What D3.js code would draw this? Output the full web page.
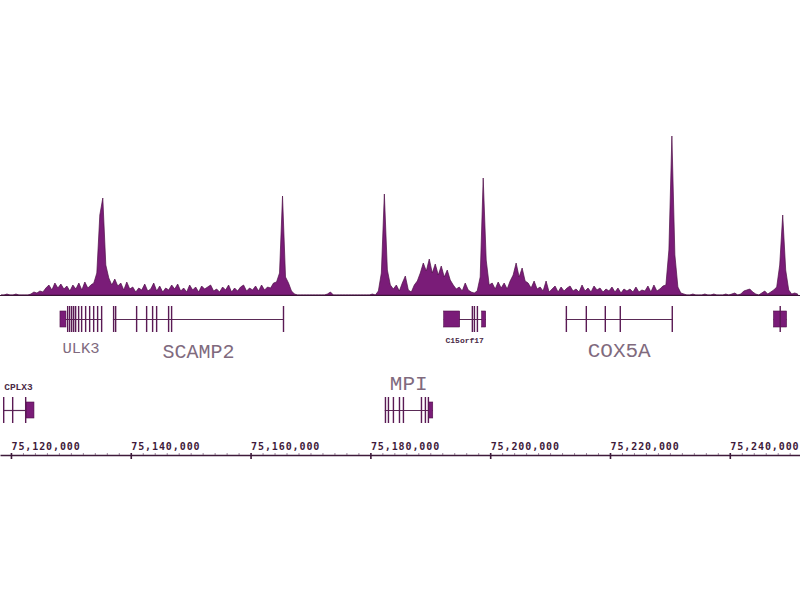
<!DOCTYPE html>
<html>
<head>
<meta charset="utf-8">
<script src="https://cdn.jsdelivr.net/npm/d3@7"></script>
<style>
  html, body { margin: 0; padding: 0; background: #ffffff; }
  svg { display: block; }
</style>
</head>
<body>
<svg id="chart" width="800" height="600"></svg>
<script>
// ---------------- DATA ----------------
// Genomic window (chr15, bp)
const regionStart = 75118170;
const regionEnd = 75251720;

// Signal track: bins of 500 bp starting at signalStart
const signalStart = 75118333;
const signalStep = 500;
const signalValues = [
  0,0,1,0,0,1,0,0,0,0,
  1,3,2,4,3,7,10,5,12,7,
  11,6,9,4,10,6,12,5,13,7,
  10,12,22,80,97,30,17,10,16,9,
  12,5,13,6,8,3,7,5,11,4,
  6,12,4,9,3,7,5,10,6,11,
  4,7,3,10,5,8,3,9,6,8,
  10,4,6,3,8,5,10,3,7,4,
  8,10,4,7,5,9,4,10,5,8,
  7,12,13,22,99,18,12,4,1,0,
  0,0,0,0,0,0,0,0,0,1,
  3,0,0,0,0,0,0,0,0,0,
  0,0,0,0,1,0,4,22,101,25,
  10,6,10,4,12,19,5,3,10,14,
  22,32,24,36,22,31,20,29,18,25,
  15,10,6,8,4,12,5,3,2,4,
  18,117,35,10,12,6,13,7,12,6,
  14,20,32,18,27,14,12,7,14,6,
  8,4,14,3,6,9,3,8,4,7,
  9,4,6,3,10,4,7,3,9,5,
  7,3,6,4,8,3,7,2,6,4,
  6,3,8,3,5,4,9,3,10,4,
  6,9,10,45,159,40,8,2,1,0,
  0,1,0,0,0,1,0,0,1,0,
  0,0,1,0,1,2,0,1,4,5,
  6,3,1,0,2,4,1,3,5,8,
  30,80,25,5,1,2,1
];
const signalMax = 160;

// Axis ticks
const majorTicks = [75120000, 75140000, 75160000, 75180000, 75200000, 75220000, 75240000];
const minorTickStep = 2000;

// Gene models: name, row, exons [start, end, type]
const geneNames = ["ULK3", "SCAMP2", "C15orf17", "COX5A", "", "CPLX3", "MPI"];
const geneRows  = [0, 0, 0, 0, 0, 1, 1];
const geneExons = [
  // ULK3
  [[75128180,75129180,"utr"],[75129350,75129550,"cds"],[75129680,75129880,"cds"],[75130020,75130220,"cds"],
   [75130350,75130550,"cds"],[75130680,75130880,"cds"],[75131180,75131380,"cds"],[75131680,75131880,"cds"],
   [75132350,75132550,"cds"],[75133020,75133220,"cds"],[75133690,75133890,"cds"],[75134350,75134550,"cds"],
   [75135020,75135220,"cds"]],
  // SCAMP2
  [[75137020,75137220,"cds"],[75137360,75137560,"cds"],[75140860,75141060,"cds"],[75142530,75142730,"cds"],
   [75143530,75143730,"cds"],[75144200,75144400,"cds"],[75146200,75146400,"cds"],[75146700,75146900,"cds"],
   [75165380,75165580,"cds"]],
  // C15orf17
  [[75192240,75194910,"utr"],[75196910,75197110,"cds"],[75197250,75197450,"cds"],[75197750,75197950,"cds"],
   [75198580,75199250,"utr"]],
  // COX5A
  [[75212600,75212800,"cds"],[75215930,75216130,"cds"],[75219100,75219300,"cds"],[75221600,75221800,"cds"],
   [75230280,75230480,"cds"]],
  // unnamed gene at right edge
  [[75247300,75249470,"utr"],[75248300,75248500,"cds"]],
  // CPLX3
  [[75118670,75118870,"cds"],[75120170,75120370,"cds"],[75122340,75122540,"cds"],[75122510,75123840,"utr"]],
  // MPI
  [[75182400,75182600,"cds"],[75182900,75183100,"cds"],[75183730,75183930,"cds"],[75184740,75184940,"cds"],
   [75185400,75185600,"cds"],[75188410,75188610,"cds"],[75189070,75189270,"cds"],[75189570,75189770,"cds"],
   [75189740,75190410,"utr"]]
];

// ---------------- STYLE / LAYOUT ----------------
const W = 800, H = 600;
const signalBase = 295, signalTop = 135;
const rowCenter = [319, 410];
const cdsH = 26, utrH = 16;
const labelStyle = {
  "ULK3":     {size: 15.5, y: 353, small: false},
  "SCAMP2":   {size: 20,   y: 358, small: false},
  "C15orf17": {size: 8,    y: 343, small: true},
  "COX5A":    {size: 21,   y: 357, small: false},
  "CPLX3":    {size: 9.5,  y: 390, small: true},
  "MPI":      {size: 21,   y: 390, small: false}
};
const purpleFill = "#7a1c78";
const purpleDark = "#4f1048";
const lineColor = "#5a2a56";
const axisColor = "#3e1a3a";

const svg = d3.select("#chart");
svg.append("rect").attr("width", W).attr("height", H).attr("fill", "#ffffff");

const x = d3.scaleLinear().domain([regionStart, regionEnd]).range([0, W]);
const y = d3.scaleLinear().domain([0, signalMax]).range([signalBase, signalTop]);

// ---------------- SIGNAL TRACK ----------------
const pts = signalValues.map((v, i) => [signalStart + i * signalStep, v]);
const area = d3.area()
  .x(d => x(d[0]))
  .y0(signalBase)
  .y1(d => y(d[1]))
  .curve(d3.curveLinear);

svg.append("path")
  .datum(pts)
  .attr("d", area)
  .attr("fill", purpleFill)
  .attr("stroke", purpleDark)
  .attr("stroke-width", 0.7)
  .attr("stroke-linejoin", "miter");

svg.append("line")
  .attr("x1", 0).attr("x2", W)
  .attr("y1", signalBase + 0.5).attr("y2", signalBase + 0.5)
  .attr("stroke", "#3a1436").attr("stroke-width", 1.2);

// ---------------- GENE MODELS ----------------
const genesG = svg.append("g");
geneNames.forEach((name, gi) => {
  const exons = geneExons[gi];
  const cy = rowCenter[geneRows[gi]];
  const gStart = d3.min(exons, e => e[0]);
  const gEnd = d3.max(exons, e => e[1]);
  const g = genesG.append("g");
  g.append("line")
    .attr("x1", x(gStart)).attr("x2", x(gEnd))
    .attr("y1", cy + 0.5).attr("y2", cy + 0.5)
    .attr("stroke", lineColor).attr("stroke-width", 1.2);
  exons.filter(e => e[2] === "utr").forEach(e => {
    g.append("rect")
      .attr("x", x(e[0])).attr("width", Math.max(1.5, x(e[1]) - x(e[0])))
      .attr("y", cy - utrH / 2).attr("height", utrH)
      .attr("fill", purpleFill).attr("stroke", purpleDark).attr("stroke-width", 0.6);
  });
  exons.filter(e => e[2] === "cds").forEach(e => {
    g.append("rect")
      .attr("x", x(e[0])).attr("width", Math.max(1.4, x(e[1]) - x(e[0])))
      .attr("y", cy - cdsH / 2).attr("height", cdsH)
      .attr("fill", "#5a1a54");
  });
  if (name && labelStyle[name]) {
    const st = labelStyle[name];
    g.append("text")
      .attr("x", (x(gStart) + x(gEnd)) / 2)
      .attr("y", st.y)
      .attr("text-anchor", "middle")
      .attr("font-family", "'Liberation Mono', 'Courier New', monospace")
      .attr("font-size", st.size)
      .attr("font-weight", st.small ? "bold" : "normal")
      .attr("fill", st.small ? "#4a2a46" : "#806a7e")
      .text(name);
  }
});

// ---------------- AXIS ----------------
const axisY = 455;
const minorTicks = d3.range(75118000, regionEnd, minorTickStep).filter(v => majorTicks.indexOf(v) < 0 && v > regionStart);

const minorAxis = d3.axisTop(x).tickValues(minorTicks).tickSize(2).tickSizeOuter(0).tickFormat("");
const gMinor = svg.append("g").attr("transform", `translate(0,${axisY})`).call(minorAxis);
gMinor.select(".domain").remove();
gMinor.selectAll(".tick line").attr("stroke", "#a088a0").attr("stroke-width", 1);

const majorAxis = d3.axisTop(x).tickValues(majorTicks).tickSize(0).tickSizeOuter(0)
  .tickFormat(d3.format(","));
const gMajor = svg.append("g").attr("transform", `translate(0,${axisY})`).call(majorAxis);
gMajor.select(".domain").attr("stroke", axisColor).attr("stroke-width", 1.6);
gMajor.selectAll(".tick line")
  .attr("y1", -2).attr("y2", 4)
  .attr("stroke", axisColor).attr("stroke-width", 1.6);
gMajor.selectAll(".tick text")
  .attr("text-anchor", "start")
  .attr("x", 0)
  .attr("y", -5)
  .attr("dy", 0)
  .attr("fill", axisColor)
  .attr("font-family", "'DejaVu Sans Mono', monospace")
  .attr("font-weight", "bold")
  .attr("font-size", 10)
  .attr("letter-spacing", "0.9px");
</script>
</body>
</html>
